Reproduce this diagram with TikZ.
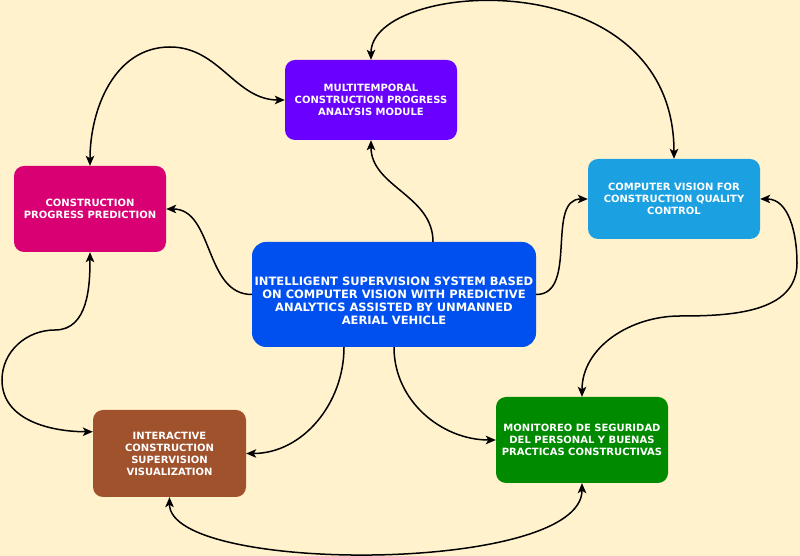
\documentclass[tikz,border=0pt]{standalone}
\usepackage{fontspec}
\setsansfont{DejaVu Sans}
\usetikzlibrary{arrows.meta}

\definecolor{bgyellow}{HTML}{FFF2CC}
\definecolor{modpurple}{HTML}{6A00FF}
\definecolor{predmagenta}{HTML}{D80073}
\definecolor{qualcyan}{HTML}{1BA1E2}
\definecolor{sysblue}{HTML}{0050EF}
\definecolor{visbrown}{HTML}{A0522D}
\definecolor{safegreen}{HTML}{008A00}

\begin{document}
\begin{tikzpicture}[x=1pt,y=1pt,
		box/.style={rounded corners=10pt, inner sep=0pt, align=center, text=white,
			font=\sffamily\bfseries\fontsize{10}{12}\selectfont},
		bigtext/.style={align=center, text=white, inner sep=0pt,
			font=\sffamily\bfseries\fontsize{11.5}{13}\selectfont},
		link/.style={line width=1.5pt, -{Stealth[length=10pt,width=8.5pt,inset=2.5pt]}},
		twoway/.style={line width=1.5pt, {Stealth[length=10pt,width=8.5pt,inset=2.5pt]}-{Stealth[length=10pt,width=8.5pt,inset=2.5pt]}}]
			\useasboundingbox (0,0) rectangle (800,556);
			\fill[bgyellow] (0,0) rectangle (800,556);

			% modules
			\node[box, fill=modpurple, minimum width=172pt, minimum height=80pt] (mt) at (371,456)
				{MULTITEMPORAL\\CONSTRUCTION PROGRESS\\ANALYSIS MODULE};
			\node[box, fill=predmagenta, minimum width=152pt, minimum height=86pt] (cpp) at (90,347)
				{CONSTRUCTION\\PROGRESS PREDICTION};
			\node[box, fill=qualcyan, minimum width=172pt, minimum height=80pt] (cv) at (674,357)
				{COMPUTER VISION FOR\\CONSTRUCTION QUALITY\\CONTROL};
			\node[box, fill=sysblue, minimum width=284pt, minimum height=105pt, rounded corners=14pt,
				label={[bigtext, yshift=-6.5pt]center:{INTELLIGENT SUPERVISION SYSTEM BASED\\ON COMPUTER VISION WITH PREDICTIVE\\ANALYTICS ASSISTED BY UNMANNED\\AERIAL VEHICLE}}] (ctr) at (394,261.5) {};
			\node[box, fill=visbrown, minimum width=153pt, minimum height=87pt] (ia) at (169.5,102.5)
				{INTERACTIVE\\CONSTRUCTION\\SUPERVISION\\VISUALIZATION};
			\node[box, fill=safegreen, minimum width=172pt, minimum height=86pt] (mon) at (582,116)
				{MONITOREO DE SEGURIDAD\\DEL PERSONAL Y BUENAS\\PRACTICAS CONSTRUCTIVAS};

			% from the system
			\draw[link] ([xshift=39pt]ctr.north) to[out=90,in=-90] (mt.south);
			\draw[link] (ctr.west) to[out=180,in=0] (cpp.east);
			\draw[link] (ctr.east) to[out=0,in=180] (cv.west);
			\draw[link] ([xshift=-50pt]ctr.south) to[out=-90,in=0] (ia.east);
			\draw[link] (ctr.south) to[out=-90,in=180] (mon.west);

			% between modules
			\draw[twoway] (mt.north) .. controls +(0,80) and +(0,200) .. (cv.north);
			\draw[twoway] (cpp.north) to[out=90,in=180] (170,509) to[out=0,in=180] (mt.west);
			\draw[twoway] (cpp.south) to[out=-90,in=0] (55,226) to[out=180,in=90] (2,176)
				to[out=-90,in=180] ([yshift=21.75pt]ia.west);
			\draw[twoway] (ia.south) .. controls +(0,-77) and +(0,-91) .. (mon.south);
			\draw[twoway] (cv.east) to[out=0,in=90] (797,293) to[out=-90,in=0] (680,240)
				to[out=180,in=90] (mon.north);
\end{tikzpicture}
\end{document}
